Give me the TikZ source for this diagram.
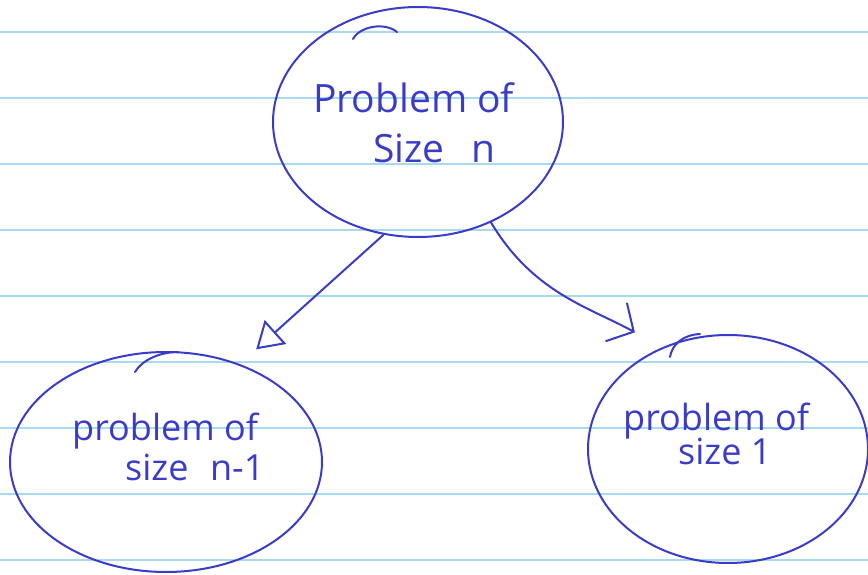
\documentclass[tikz,border=0pt]{standalone}
\usepackage{fontspec}
\setmainfont{Open Sans}
\usetikzlibrary{shapes.geometric,arrows.meta}
\definecolor{ink}{RGB}{58,60,200}
\definecolor{rule}{RGB}{170,216,236}
\begin{document}
\begin{tikzpicture}[x=1pt,y=-1pt,
    blob/.style={draw=ink,line width=2pt,ellipse,inner sep=0pt},
    pen/.style={draw=ink,line width=2pt,line cap=round},
    word/.style={text=ink,font=\fontsize{36}{40}\selectfont,inner sep=0pt,anchor=base west},
    bigword/.style={word,font=\fontsize{39}{44}\selectfont},
    ruled/.style={draw=rule,line width=2.5pt}]
  \useasboundingbox (0,0) rectangle (868,575);
  \foreach \k in {0,...,8}
    \draw[ruled] (0,32+66*\k) -- (868,32+66*\k);
  \node[blob,minimum width=290pt,minimum height=230pt] at (418,122) (sizen) {};
  \node[blob,minimum width=312pt,minimum height=220pt] at (166,462) (sizen1) {};
  \node[blob,minimum width=280pt,minimum height=228pt] at (728,449) (size1) {};
  \node[bigword] at (313,113) (sizentop) {Problem of};
  \node[bigword] at (373,163) (sizenbot) {Size\hspace{0.7em}n};
  \node[word] at (72,440) (sizen1top) {problem of};
  \node[word] at (125,480) (sizen1bot) {size\hspace{0.6em}n-1};
  \node[word] at (623,430) (size1top) {problem of};
  \node[word] at (678,464) (size1bot) {size 1};
  \draw[pen] (353,39) .. controls (360,26) and (385,22) .. (397,32);
  \draw[pen] (135,372) .. controls (142,360) and (160,352) .. (178,352);
  \draw[pen] (670,357) .. controls (672,345) and (682,335) .. (700,334);
  \draw[pen,-{Triangle[open,length=26pt,width=32pt]},shorten >=22pt] (sizen.-107) -- (sizen1.53);
  \draw[pen,-{Straight Barb[length=20pt,width=44pt]},shorten >=31pt] (sizen.-54) to[out=-59,in=151] (size1.123);
\end{tikzpicture}
\end{document}
